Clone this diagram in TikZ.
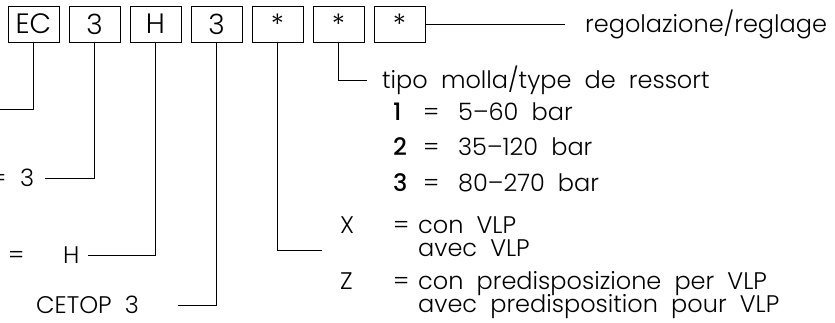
\documentclass[tikz,border=0pt]{standalone}
\usepackage{fontspec}
\IfFontExistsTF{Poppins Light}
  {\setmainfont{Poppins Light}[BoldFont=Poppins Medium, WordSpace=2]}
  {\setmainfont{Liberation Sans}[WordSpace=2.2]}
\usetikzlibrary{positioning}

\tikzset{
  cell/.style={draw, line width=0.9pt, minimum width=51pt, minimum height=36pt,
    inner sep=0pt, font=\fontsize{28}{28}\selectfont},
  lbl/.style={anchor=west, inner xsep=2pt, inner ysep=1pt, text height=16pt,
    text depth=0pt, font=\fontsize{24}{24}\selectfont},
  lead/.style={line width=0.9pt}
}

\begin{document}
\begin{tikzpicture}[x=1pt,y=-1pt]
  % Fix the frame of the picture
  \useasboundingbox (0,0) rectangle (835,322);
  \clip (0,0) rectangle (835,322);

  % The code boxes
  \foreach \t [count=\i] in {EC,3,H,3,*,*,*} {
    \node[cell] (B\i) at ({33.5+61*(\i-1)},24) {\t};
  }

  % Texts on the left side
  \coordinate (e1) at (0,109);
  \node[lbl] (q2) at (-12,178) {=};
  \node[lbl] (t2) at (18,178) {3};
  \node[lbl] (q3) at (6,255) {=};
  \node[lbl] (t3) at (61,255) {H};
  \node[lbl] (t4) at (34,305) {CETOP 3};

  % Spring type
  \node[lbl] (tipo) at (380,80) {tipo molla/type de ressort};
  \foreach \n/\v [count=\k] in {1/5--60 bar,2/35--120 bar,3/80--270 bar} {
    \node[lbl, font=\fontsize{24}{24}\selectfont\bfseries] (n\k) at (391,{112+35.5*(\k-1)}) {\n};
    \node[lbl] (eq\k) at (421,{112+35.5*(\k-1)}) {=};
    \node[lbl] (v\k) at (456,{112+35.5*(\k-1)}) {\v};
  }

  % VLP options
  \coordinate (cx) at (322,250);
  \node[lbl] (ox) at (338,225) {X};
  \node[lbl] (qx) at (391,225) {=};
  \node[lbl] (x1) at (416,225) {con VLP};
  \node[lbl] (x2) at (416,248) {avec VLP};
  \node[lbl] (oz) at (338,281) {Z};
  \node[lbl] (qz) at (391,281) {=};
  \node[lbl] (z1) at (416,281) {con predisposizione per VLP};
  \node[lbl] (z2) at (416,304) {avec predisposition pour VLP};

  % Setting
  \node[lbl] (reg) at (583,24) {regolazione/reglage};

  % Leader lines
  \draw[lead] (B1) |- (e1);
  \draw[lead, shorten >=9pt] (B2) |- (t2);
  \draw[lead, shorten >=6pt] (B3) |- (t3);
  \draw[lead, shorten >=37pt] (B4) |- (t4);
  \draw[lead] (B5) |- (cx);
  \draw[lead, shorten >=13pt] (B6) |- (tipo);
  \draw[lead, shorten >=18pt] (B7) -- (reg);

\end{tikzpicture}
\end{document}
